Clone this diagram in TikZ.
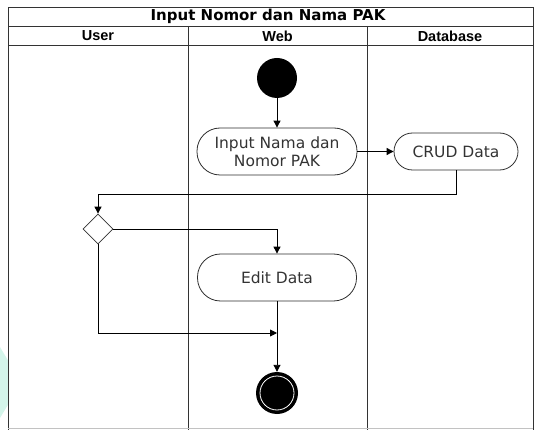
\documentclass[tikz,border=0pt]{standalone}
\usepackage{fontspec}
\setmainfont{DejaVu Sans}
\newfontfamily\headfont{Liberation Sans}
\usetikzlibrary{arrows.meta,shapes.geometric,calc}
\definecolor{laneline}{HTML}{333333}
\definecolor{boxline}{HTML}{2E2E2E}
\definecolor{txt}{HTML}{333333}
\definecolor{mint}{HTML}{D4F5EA}
\tikzset{
  lane/.style={draw=laneline, line width=0.9pt},
  action/.style={draw=boxline, line width=0.8pt, rounded corners=#1, inner sep=0pt,
    align=center, text=txt, font=\fontsize{15.5}{18.5}\selectfont},
  flow/.style={draw=black, line width=0.9pt, -{Triangle[length=7pt,width=7pt]}},
  decision/.style={draw=laneline, line width=0.8pt, diamond, minimum width=30pt,
    minimum height=30pt, inner sep=0pt, fill=white},
  headtext/.style={font=\headfont\bfseries\fontsize{14.5}{16}\selectfont},
}
\begin{document}
\begin{tikzpicture}[x=1pt,y=-1pt]
\useasboundingbox (0,0) rectangle (535,430);
% faint mark at the left margin
\fill[mint] (0,347) -- (9,362) -- (9,403) -- (0,418) -- cycle;

% swimlane frame
\draw[lane] (8,430) -- (8,7) -- (533,7) -- (533,430);
\draw[lane] (8,26) -- (533,26);
\draw[lane] (8,45) -- (533,45);
\draw[lane] (188,26) -- (188,430);
\draw[lane] (367,26) -- (367,430);
\draw[laneline!30, line width=0.6pt] (8,428) -- (533,428);

\node (title) at (268,16.5) {\bfseries\fontsize{15}{16}\selectfont Input Nomor dan Nama PAK};
\node[headtext] (huser) at (98,36) {User};
\node[headtext] (hweb) at (277.5,36) {Web};
\node[headtext] (hdb) at (450,36) {Database};

% activity nodes
\node[circle, fill=black, minimum size=40pt, inner sep=0pt] (start) at (277,78) {};
\node[action=23pt, minimum width=160pt, minimum height=47pt] (input) at (277,151.5)
  {Input Nama dan\\Nomor PAK};
\node[action=18.5pt, minimum width=124pt, minimum height=37pt] (crud) at (456,151.5)
  {CRUD Data};
\node[decision] (dec) at (98,229) {};
\node[action=23pt, minimum width=159pt, minimum height=47pt] (edit) at (277,277.5)
  {Edit Data};
\node[circle, fill=black, minimum size=42pt, inner sep=0pt] (final) at (277,393) {};
\draw[white, line width=0.8pt] (final.center) circle[radius=17pt];

\coordinate (crudturn) at (456,194);
\coordinate (decturn) at (98,194);
\coordinate (rightturn) at (277,229);
\coordinate (joinleft) at (98,333);
\coordinate (joinpt) at (277,333);

% connectors
\draw[flow] (start) -- (input);
\draw[flow] (input) -- (crud);
\draw[flow] (crud.south) -- (crudturn) -- (decturn) -- (dec.north);
\draw[flow] (dec.east) -- (rightturn) -- (edit.north);
\draw[flow] (edit) -- (final);
\draw[flow] (dec.south) -- (joinleft) -- (joinpt);
\end{tikzpicture}
\end{document}
